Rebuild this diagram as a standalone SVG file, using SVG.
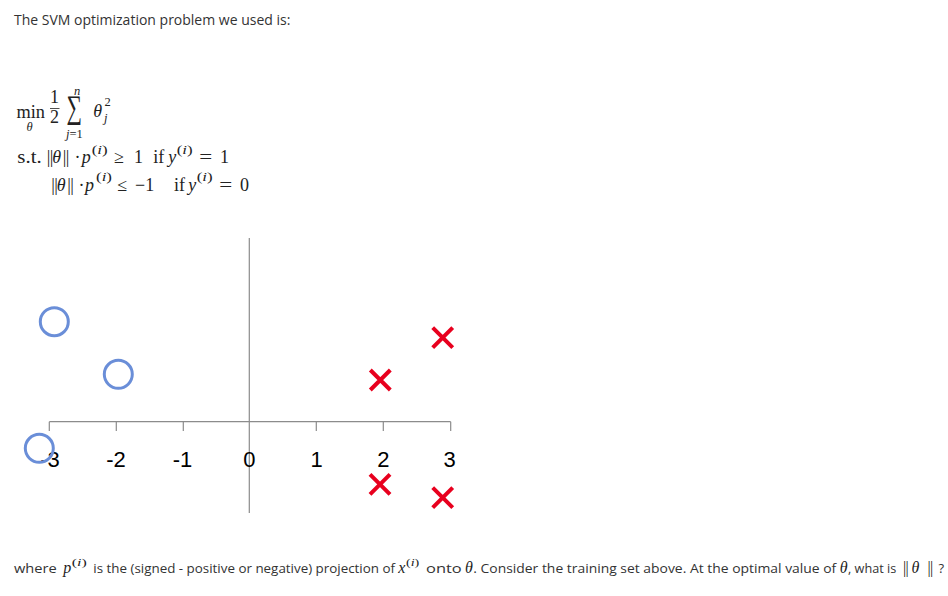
<svg xmlns="http://www.w3.org/2000/svg" width="948" height="596" viewBox="0 0 948 596">
<style>
.body{font-family:"Open Sans","Liberation Sans",sans-serif;font-size:14px;fill:#333}
.m{font-family:"Liberation Serif","DejaVu Serif",serif;font-size:18px;fill:#222}
.s{font-size:12.5px}
.i{font-style:italic}
.ax{stroke:#8c8c8c;stroke-width:1.2;fill:none}
.lbl{font-family:"Liberation Sans",sans-serif;font-size:22px;fill:#000;text-anchor:middle}
.o{fill:none;stroke:#6a8ed8;stroke-width:3}
.x{stroke:#e8001e;stroke-width:4;stroke-linecap:butt}
</style>
<rect width="948" height="596" fill="#fff"/>
<text class="body" x="14" y="25">The SVM optimization problem we used is:</text>

<g id="formula">
<text class="m" x="16.5" y="118.3" textLength="28.5" lengthAdjust="spacingAndGlyphs">min</text>
<text class="m s i" x="26.5" y="130.5">θ</text>
<text class="m" x="54.5" y="103.3" text-anchor="middle">1</text>
<line x1="50" y1="108.5" x2="59.5" y2="108.5" stroke="#222" stroke-width="0.8"/>
<text class="m" x="54.5" y="123.3" text-anchor="middle">2</text>
<text class="m" x="66.5" y="118" style="font-size:33px" textLength="15.5" lengthAdjust="spacingAndGlyphs">∑</text>
<text class="m s i" x="77" y="94.5" text-anchor="middle">n</text>
<text class="m s" x="74.3" y="138.3" text-anchor="middle"><tspan class="i">j</tspan>=1</text>
<text class="m i" x="93.3" y="117">θ</text>
<text class="m s" x="104.5" y="106">2</text>
<text class="m s i" x="104" y="121.5">j</text>

<text class="m" y="163.3"><tspan x="17.3" textLength="24.4" lengthAdjust="spacingAndGlyphs">s.t.</tspan><tspan x="46.8" letter-spacing="-0.6">||</tspan><tspan x="52.3" class="i">θ</tspan><tspan x="62.8" letter-spacing="-0.6">||</tspan><tspan x="74.5">·</tspan><tspan x="81.7" class="i">p</tspan><tspan x="114">≥</tspan><tspan x="134">1</tspan><tspan x="153.3">if</tspan><tspan x="168.3" class="i">y</tspan><tspan x="199.3" textLength="13" lengthAdjust="spacingAndGlyphs">=</tspan><tspan x="220">1</tspan></text>
<text class="m s" y="153.5"><tspan x="91.7" textLength="16" lengthAdjust="spacingAndGlyphs">(<tspan class="i">i</tspan>)</tspan><tspan x="176.7" textLength="16" lengthAdjust="spacingAndGlyphs">(<tspan class="i">i</tspan>)</tspan></text>

<text class="m" y="190.7"><tspan x="51.2" letter-spacing="-0.6">||</tspan><tspan x="56.7" class="i">θ</tspan><tspan x="67.2" letter-spacing="-0.6">||</tspan><tspan x="78.5">·</tspan><tspan x="85" class="i">p</tspan><tspan x="117.3">≤</tspan><tspan x="135">−1</tspan><tspan x="174">if</tspan><tspan x="188.3" class="i">y</tspan><tspan x="219.3" textLength="13" lengthAdjust="spacingAndGlyphs">=</tspan><tspan x="240">0</tspan></text>
<text class="m s" y="181"><tspan x="96" textLength="16" lengthAdjust="spacingAndGlyphs">(<tspan class="i">i</tspan>)</tspan><tspan x="196.7" textLength="16" lengthAdjust="spacingAndGlyphs">(<tspan class="i">i</tspan>)</tspan></text>
</g>

<g id="connectors">
<line class="ax" x1="249.3" y1="238" x2="249.3" y2="513"/>
<line class="ax" x1="49.3" y1="421.7" x2="450.7" y2="421.7"/>
<path class="ax" d="M49.3 421.7V431M116.3 421.7V431M183.3 421.7V431M316.3 421.7V431M383.3 421.7V431M450.7 421.7V431"/>
</g>

<g id="labels">
<text class="lbl" x="50" y="467.3">-3</text>
<text class="lbl" x="116" y="467.3">-2</text>
<text class="lbl" x="182.5" y="467.3">-1</text>
<text class="lbl" x="249.3" y="467.3">0</text>
<text class="lbl" x="316.5" y="467.3">1</text>
<text class="lbl" x="383.3" y="467.3">2</text>
<text class="lbl" x="449.5" y="467.3">3</text>
</g>

<g id="neg1"><circle class="o" cx="54.3" cy="321.7" r="14"/></g>
<g id="neg2"><circle class="o" cx="118.3" cy="374.3" r="14"/></g>
<g id="neg3"><circle class="o" cx="39.3" cy="448.3" r="14"/></g>
<g id="pos1"><path class="x" d="M432.7 327.7l20 20M452.7 327.7l-20 20"/></g>
<g id="pos2"><path class="x" d="M370.3 370l20 20M390.3 370l-20 20"/></g>
<g id="pos3"><path class="x" d="M370 474.3l20 20M390 474.3l-20 20"/></g>
<g id="pos4"><path class="x" d="M432.7 487.7l20 20M452.7 487.7l-20 20"/></g>

<text class="body" y="573.3" style="font-size:13px"><tspan x="14" textLength="42.7" lengthAdjust="spacingAndGlyphs">where</tspan><tspan x="93.3" textLength="301.7" lengthAdjust="spacingAndGlyphs">is the (signed - positive or negative) projection of</tspan><tspan x="426" textLength="35.7" lengthAdjust="spacingAndGlyphs">onto</tspan><tspan x="473.3" textLength="363" lengthAdjust="spacingAndGlyphs">. Consider the training set above. At the optimal value of</tspan><tspan x="848" textLength="48.3" lengthAdjust="spacingAndGlyphs">, what is</tspan><tspan x="938.5">?</tspan></text>
<text class="m i" style="font-size:16px" y="573.3"><tspan x="63.3">p</tspan><tspan x="398.3">x</tspan><tspan x="465">θ</tspan><tspan x="839.7">θ</tspan><tspan x="903" font-style="normal" letter-spacing="-0.8">||</tspan><tspan x="911.5">θ</tspan><tspan x="927.5" font-style="normal" letter-spacing="-0.8">||</tspan></text>
<text class="m s" style="font-size:11px" y="566"><tspan x="71.7" textLength="15" lengthAdjust="spacingAndGlyphs">(<tspan class="i">i</tspan>)</tspan><tspan x="406" textLength="13.3" lengthAdjust="spacingAndGlyphs">(<tspan class="i">i</tspan>)</tspan></text>
</svg>
